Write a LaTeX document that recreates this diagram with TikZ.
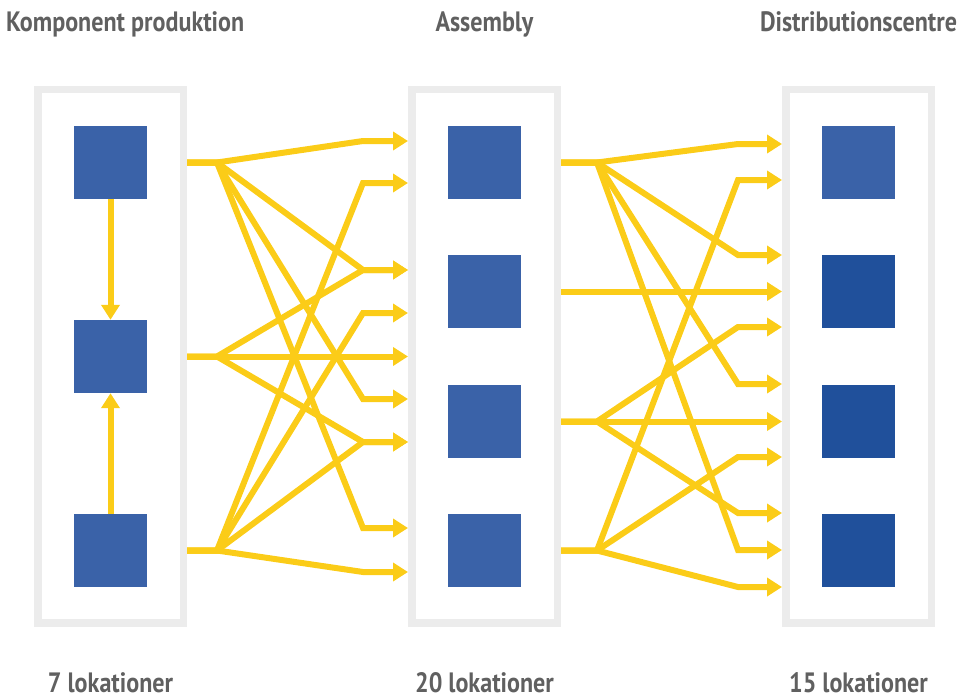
\documentclass[tikz,border=0pt]{standalone}
\usepackage{fontspec}
\setmainfont{PT Sans}
\newfontfamily\capfont{PT Sans}[FakeStretch=0.86]
\usetikzlibrary{arrows.meta}

\definecolor{sitegray}{RGB}{236,236,236}
\definecolor{capgray}{RGB}{96,96,96}
\definecolor{unitblue}{RGB}{58,98,168}
\definecolor{unitdark}{RGB}{32,80,155}
\definecolor{flowyel}{RGB}{251,204,24}

\tikzset{
    site/.style={draw=sitegray,line width=7.5pt,minimum width=145.5pt,minimum height=533.5pt,inner sep=0pt},
    unit/.style={fill=#1,minimum size=73pt,inner sep=0pt},
    unit/.default=unitblue,
    flow/.style={draw=flowyel,line width=6pt,-{Triangle[length=15pt,width=18pt]}},
    caption/.style={font=\capfont\bfseries\fontsize{28}{30}\selectfont,text=capgray,inner sep=0pt},
}

\begin{document}
\begin{tikzpicture}[x=1pt,y=-1pt]
    \useasboundingbox (0,0) rectangle (963,698);

    \node [site] (boxL) at (110.5,356.25) {};
    \node [site] (boxM) at (484.5,356.25) {};
    \node [site] (boxR) at (858.5,356.25) {};

    \foreach \y [count=\i] in {162.5,356.5,550.5} {
        \node [unit] (sqL\i) at (110.5,\y) {};
        \coordinate (oL\i) at (sqL\i -| boxL.east);
        \coordinate (fL\i) at ([xshift=30pt]oL\i);
    }
    \foreach \y/\c [count=\i] in {162.5/unitblue,291.5/unitdark,421.5/unitdark,550.5/unitdark} {
        \node [unit] (sqM\i) at (484.5,\y) {};
        \node [unit=\c] (sqR\i) at (858.5,\y) {};
        \coordinate (oM\i) at (sqM\i -| boxM.east);
        \coordinate (fM\i) at ([xshift=36pt]oM\i);
    }

    \foreach \y [count=\i] in {141,183,270,313,356.5,399,442,528,572} {
        \coordinate (iA\i) at (boxM.west |- 0,\y);
    }
    \foreach \y [count=\i] in {144,180,255,291.5,327,384,421.5,457,513,550,587} {
        \coordinate (iB\i) at (boxR.west |- 0,\y);
    }
    \coordinate (bA) at ([xshift=-45pt]boxM.west);
    \coordinate (bB) at ([xshift=-44pt]boxR.west);

    \draw [flow] (sqL1) -- (sqL2);
    \draw [flow] (sqL3) -- (sqL2);

    \foreach \s/\t in {1/1,1/3,1/6,1/8,2/3,2/5,2/7,3/2,3/4,3/7,3/9} {
        \draw [flow] (oL\s) -- (fL\s) -- (iA\t -| bA) -- (iA\t);
    }
    \foreach \s/\t in {1/1,1/3,1/6,1/10,2/4,3/5,3/7,3/9,4/2,4/8,4/11} {
        \draw [flow] (oM\s) -- (fM\s) -- (iB\t -| bB) -- (iB\t);
    }

    \node [caption,anchor=base west] (ttlL) at (6,32) {Komponent produktion};
    \node [caption,anchor=base] (ttlM) at (484.5,32) {Assembly};
    \node [caption,anchor=base] (ttlR) at (858.5,32) {Distributionscentre};
    \node [caption,anchor=base] (cntL) at (110.5,692) {7 lokationer};
    \node [caption,anchor=base] (cntM) at (484.5,692) {20 lokationer};
    \node [caption,anchor=base] (cntR) at (858.5,692) {15 lokationer};
\end{tikzpicture}
\end{document}
